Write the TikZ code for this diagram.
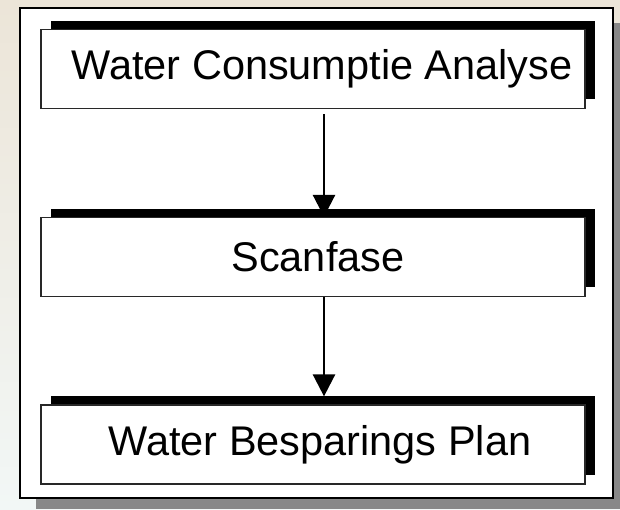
\documentclass[tikz,border=0pt]{standalone}
\usepackage{fontspec}
\setmainfont{Liberation Sans}
\usepackage{tikz}
\usetikzlibrary{positioning}
\usetikzlibrary{arrows.meta}
\usetikzlibrary{shadows}

\definecolor{achter1}{RGB}{236,229,216}
\definecolor{achter2}{RGB}{242,247,246}
\definecolor{schaduw}{RGB}{136,136,136}
\definecolor{rand}{RGB}{40,40,40}

\begin{document}
\begin{tikzpicture}[x=0.025cm, y=-0.025cm,
    box/.style={draw=rand, line width=1pt, fill=white, rectangle,
      minimum width=13.6cm, minimum height=1.97cm, inner sep=0pt,
      font=\fontsize{29.5}{34}\selectfont,
      general shadow={fill=black, shadow xshift=0.25cm, shadow yshift=0.225cm}},
    pijl/.style={-{Triangle[length=0.55cm, width=0.55cm]}, line width=1.8pt}]
              \useasboundingbox (0,0) rectangle (620,509);
              % Achtergrond
              \shade[top color=achter1, bottom color=achter2] (0,0) rectangle (620,509);
              \fill[schaduw] (36,23) rectangle (620,509);
              \draw[fill=white, line width=1.4pt] (20,8) rectangle (613,498);

              % Cajas
              \node[box] (analyse) at (313,69) {\hspace*{0.45cm}Water Consumptie Analyse};
              \node[box] (scan) at (313,257) {\hspace*{0.25cm}Scanfase};
              \node[box] (plan) at (313,444.5) {\hspace*{0.35cm}Water Besparings Plan};

              % Flechas
              \draw[pijl] ([xshift=0.275cm, yshift=-0.125cm]analyse.south) -- ([xshift=0.275cm]scan.north);
              \draw[pijl] ([xshift=0.275cm]scan.south) -- ([xshift=0.275cm, yshift=0.2cm]plan.north);
            \end{tikzpicture}
\end{document}
